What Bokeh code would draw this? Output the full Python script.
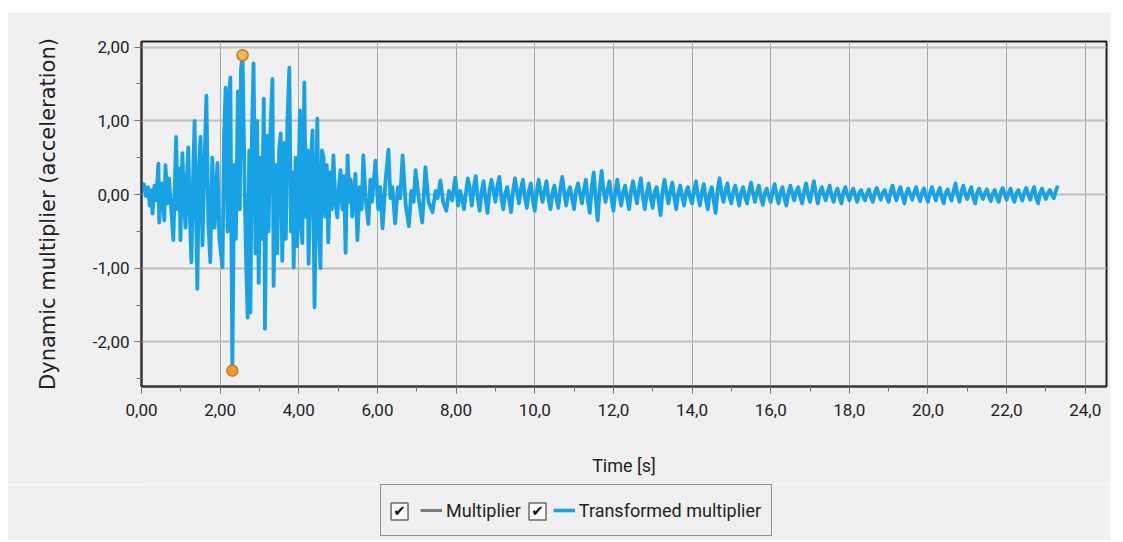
import numpy as np
from bokeh.plotting import figure
from bokeh.layouts import column, row
from bokeh.core.properties import value
from bokeh.models import FixedTicker, Legend, LegendItem, Range1d, Spacer
from bokeh.embed import file_html
from bokeh.resources import INLINE

# ---- data ----
early_t = [0.00, 0.06, 0.11, 0.16, 0.21, 0.25, 0.28, 0.33, 0.37, 0.43, 0.45, 0.51, 0.55, 0.58, 0.61,
           0.66, 0.70, 0.77, 0.81, 0.88, 0.92, 0.96, 0.99, 1.04, 1.08, 1.12, 1.16, 1.19, 1.23, 1.27,
           1.31, 1.35, 1.42, 1.46, 1.50, 1.55, 1.60, 1.65, 1.70, 1.75, 1.80, 1.86, 1.93, 1.98, 2.06,
           2.10, 2.14, 2.19, 2.23, 2.26, 2.31, 2.36, 2.40, 2.45, 2.50, 2.53, 2.57, 2.62, 2.66, 2.70,
           2.74, 2.77, 2.81, 2.85, 2.90, 2.94, 2.98, 3.02, 3.06, 3.11, 3.14, 3.19, 3.23, 3.28, 3.33,
           3.36, 3.41, 3.45, 3.50, 3.54, 3.58, 3.63, 3.67, 3.71, 3.76, 3.80, 3.84, 3.87, 3.92, 3.96,
           4.03, 4.06, 4.09, 4.14, 4.18, 4.22, 4.25, 4.30, 4.35, 4.40, 4.47, 4.51, 4.55, 4.59, 4.63,
           4.67, 4.71, 4.75, 4.80, 4.84, 4.88, 4.93, 4.98, 5.02, 5.06, 5.11, 5.15, 5.19, 5.24, 5.29,
           5.32, 5.36, 5.44, 5.49, 5.55, 5.60, 5.64, 5.70, 5.77, 5.82, 5.86, 5.95, 6.02, 6.07, 6.13,
           6.20, 6.28, 6.33, 6.38, 6.45, 6.52, 6.58, 6.64, 6.72, 6.80, 6.86, 6.92, 6.97, 7.05, 7.14,
           7.22, 7.30, 7.40, 7.48, 7.53, 7.60, 7.67, 7.75, 7.82, 7.90, 7.98, 8.05]
early_v = [0.05, 0.14, -0.02, 0.10, -0.15, 0.06, -0.26, 0.12, -0.08, 0.42, -0.38, 0.15, -0.10, -0.35, 0.40,
           -0.12, 0.22, -0.30, -0.62, 0.78, -0.20, 0.35, -0.62, 0.56, -0.10, -0.45, 0.30, 0.64, -0.30, -0.92,
           0.20, 1.00, -1.28, 0.30, 0.78, -0.69, 0.40, 1.34, -0.40, -0.92, 0.50, -0.45, 0.43, -0.60, -0.99,
           0.80, 1.45, -0.50, 1.30, 1.59, -2.39, 0.40, -0.60, 1.40, -0.20, 1.70, 1.89, 0.20, -0.90, -1.67,
           0.60, -1.60, 0.90, 1.78, -0.80, 1.00, -1.20, 0.50, -0.60, 1.30, -1.82, 0.80, -0.50, 0.90, 1.57,
           -1.24, 0.40, -0.80, 0.60, 0.83, -0.90, 0.70, -0.60, 1.00, 1.72, -0.50, 0.30, -0.99, 0.50, -0.70,
           1.14, -0.40, -0.66, 1.52, -0.30, 0.60, -0.94, 0.40, 0.87, -1.53, 1.03, -0.40, -1.00, 0.60, 0.50,
           -0.30, 0.40, -0.65, 0.30, -0.20, 0.53, -0.10, -0.31, 0.10, 0.33, -0.20, 0.25, -0.79, 0.53, -0.10,
           0.20, -0.30, 0.28, -0.62, 0.10, -0.20, 0.53, -0.05, -0.40, 0.20, -0.10, 0.46, -0.20, 0.10, -0.46,
           0.15, 0.61, -0.05, 0.10, -0.39, 0.10, -0.05, 0.53, -0.15, -0.43, 0.05, -0.10, 0.33, -0.05, -0.38,
           0.37, -0.10, -0.24, 0.05, -0.05, 0.19, -0.10, -0.22, 0.05, -0.08, 0.23, -0.15]

# tail sampled every 0.05 s from 8.10 s to 23.30 s
tail_v = [0.05, -0.05, -0.20, 0.02, 0.22, 0.08, -0.15, 0.10, 0.25, -0.05, -0.22, 0.04, 0.18, -0.06, -0.25, 0.05, 0.20, 0.06, -0.10, 0.12,
          0.24, -0.04, -0.20, 0.02, 0.10, -0.08, -0.24, 0.06, 0.22, 0.04, -0.12, 0.08, 0.20, -0.04, -0.18, 0.05, 0.15, -0.06, -0.22, 0.04,
          0.20, 0.02, -0.10, 0.06, 0.18, -0.06, -0.20, 0.02, 0.12, -0.05, -0.18, 0.08, 0.24, 0.02, -0.15, 0.04, 0.10, -0.06, -0.20, 0.05,
          0.15, 0.02, -0.12, 0.06, 0.20, -0.08, -0.25, 0.10, 0.30, -0.05, -0.35, 0.05, 0.32, 0.05, -0.10, 0.06, 0.18, -0.04, -0.22, 0.04,
          0.20, -0.02, -0.15, 0.04, 0.12, -0.06, -0.20, 0.05, 0.18, 0.02, -0.12, 0.08, 0.22, -0.04, -0.20, 0.02, 0.15, -0.05, -0.18, 0.04,
          0.10, -0.08, -0.28, 0.04, 0.20, 0.02, -0.12, 0.05, 0.16, -0.05, -0.20, 0.02, 0.12, -0.03, -0.15, 0.04, 0.10, -0.04, -0.12, 0.05,
          0.18, -0.02, -0.15, 0.03, 0.14, -0.06, -0.20, 0.02, 0.10, -0.08, -0.25, 0.06, 0.22, 0.02, -0.10, 0.05, 0.15, -0.03, -0.12, 0.04,
          0.12, -0.02, -0.15, 0.03, 0.10, -0.04, -0.12, 0.04, 0.16, 0.02, -0.10, 0.03, 0.12, -0.04, -0.14, 0.02, 0.08, -0.02, -0.10, 0.04,
          0.14, 0.00, -0.12, 0.03, 0.10, -0.05, -0.15, 0.02, 0.12, 0.02, -0.08, 0.04, 0.10, -0.03, -0.12, 0.04, 0.15, 0.00, -0.10, 0.05,
          0.18, 0.02, -0.12, 0.03, 0.10, 0.00, -0.08, 0.04, 0.12, -0.02, -0.10, 0.02, 0.08, -0.04, -0.12, 0.03, 0.10, 0.00, -0.08, 0.02,
          0.08, -0.02, -0.10, 0.02, 0.06, -0.03, -0.08, 0.02, 0.07, -0.04, -0.10, 0.03, 0.09, 0.00, -0.07, 0.02, 0.06, -0.03, -0.10, 0.04,
          0.12, 0.00, -0.08, 0.03, 0.10, -0.02, -0.12, 0.02, 0.08, 0.00, -0.07, 0.03, 0.10, -0.02, -0.09, 0.03, 0.08, -0.03, -0.10, 0.02,
          0.10, 0.00, -0.08, 0.02, 0.09, -0.04, -0.12, 0.02, 0.07, -0.02, -0.08, 0.05, 0.15, 0.00, -0.10, 0.04, 0.12, 0.00, -0.06, 0.03,
          0.10, -0.04, -0.12, 0.02, 0.08, 0.00, -0.06, 0.02, 0.07, -0.03, -0.09, 0.02, 0.06, -0.04, -0.10, 0.03, 0.09, 0.00, -0.07, 0.02,
          0.08, -0.03, -0.10, 0.02, 0.06, -0.02, -0.08, 0.03, 0.09, 0.00, -0.07, 0.03, 0.10, -0.04, -0.12, 0.02, 0.08, 0.00, -0.06, 0.02,
          0.06, 0.00, -0.05, 0.04, 0.12]
tail_t = [round(8.10 + 0.05 * i, 2) for i in range(len(tail_v))]

time_s = early_t + tail_t
multiplier = early_v + tail_v

x_ticks = [0, 2, 4, 6, 8, 10, 12, 14, 16, 18, 20, 22, 24]
x_tick_labels = ["0,00", "2,00", "4,00", "6,00", "8,00", "10,0", "12,0", "14,0",
                 "16,0", "18,0", "20,0", "22,0", "24,0"]
x_minor = [1, 3, 5, 7, 9, 11, 13, 15, 17, 19, 21, 23]
y_ticks = [-2, -1, 0, 1, 2]
y_tick_labels = ["-2,00", "-1,00", "0,00", "1,00", "2,00"]
y_minor = [-2.5, -1.5, -0.5, 0.5, 1.5]

series_names = ["Multiplier", "Transformed multiplier"]
series_colors = ["#7a7a7a", "#17a2e6"]

# ---- main figure ----
BG = "#f0f0f0"
p = figure(width=1103, height=472, output_backend="svg", toolbar_location=None,
           x_range=Range1d(0, 24.54), y_range=Range1d(-2.605, 2.076),
           min_border_left=134, min_border_right=4, min_border_top=29, min_border_bottom=98,
           background_fill_color=BG, border_fill_color=BG)

p.outline_line_color = "#1e1e1e"
p.outline_line_width = 2

line_r = p.line(time_s, multiplier, line_color=series_colors[1], line_width=3.8, line_join="round")

arr = np.array(multiplier)
imax, imin = int(np.argmax(arr)), int(np.argmin(arr))
p.scatter([time_s[imax], time_s[imin]], [multiplier[imax], multiplier[imin]], size=11,
          fill_color=["#f4b45e", "#ec9a32"], line_color="#c77a1c", line_width=1.5)

tick_font = "Roboto"
p.xaxis.ticker = FixedTicker(ticks=x_ticks, minor_ticks=x_minor)
p.xaxis.major_label_overrides = dict(zip(x_ticks, x_tick_labels))
p.yaxis.ticker = FixedTicker(ticks=y_ticks, minor_ticks=y_minor)
p.yaxis.major_label_overrides = dict(zip(y_ticks, y_tick_labels))

for ax in (p.xaxis, p.yaxis):
    ax.axis_line_color = "#3a3a3a"
    ax.axis_line_width = 2
    ax.major_tick_line_color = "#707070"
    ax.minor_tick_line_color = "#707070"
    ax.major_tick_in = 0
    ax.minor_tick_in = 0
    ax.major_tick_out = 7
    ax.minor_tick_out = 5
    ax.major_label_text_font = tick_font
    ax.major_label_text_font_size = "17px"
    ax.major_label_text_color = "#222222"
    ax.axis_label_text_font_style = "normal"
    ax.axis_label_text_color = "#222222"

p.xaxis.major_label_standoff = 10
p.yaxis.major_label_standoff = 5
p.xaxis.axis_label = "Time [s]"
p.xaxis.axis_label_text_font = tick_font
p.xaxis.axis_label_text_font_size = "18px"
p.xaxis.axis_label_standoff = 36
p.yaxis.axis_label = "Dynamic multiplier (acceleration)"
p.yaxis.axis_label_text_font = "DejaVu Sans"
p.yaxis.axis_label_text_font_size = "21px"
p.yaxis.axis_label_standoff = 30

p.xgrid.ticker = FixedTicker(ticks=x_ticks)
p.ygrid.ticker = FixedTicker(ticks=y_ticks)
p.xgrid.grid_line_color = "#a8a8a8"
p.xgrid.grid_line_width = 1
p.ygrid.grid_line_color = "#bdbdbd"
p.ygrid.grid_line_width = 2

# ---- legend strip ----
lf = figure(width=1103, height=56, output_backend="svg", toolbar_location=None,
            x_range=Range1d(0, 1), y_range=Range1d(0, 1), x_axis_type=None, y_axis_type=None,
            min_border_left=134, min_border_right=4, min_border_top=0, min_border_bottom=0,
            background_fill_color=BG, border_fill_color=BG)
lf.outline_line_color = None
lf.grid.visible = False

# legend sample glyphs sit outside the strip's visible range
blank1 = lf.line([-2, -1], [-1, -1], line_alpha=0)
mult_r = lf.line([-2, -1], [-1, -1], line_color=series_colors[0], line_width=3)
blank2 = lf.line([-2, -1], [-1, -1], line_alpha=0)
trans_r = lf.line([-2, -1], [-1, -1], line_color=series_colors[1], line_width=3.6)

legend = Legend(items=[LegendItem(label=" ", renderers=[blank1]),
                       LegendItem(label=series_names[0], renderers=[mult_r]),
                       LegendItem(label=" ", renderers=[blank2]),
                       LegendItem(label=series_names[1], renderers=[trans_r])],
                orientation="horizontal", location=(239, 4),
                glyph_width=22, glyph_height=30, label_standoff=4, spacing=3,
                label_width=0, padding=10, margin=0,
                border_line_color="#303030", border_line_width=1.5,
                background_fill_alpha=0.0,
                label_text_font=tick_font, label_text_font_size="18px",
                label_text_color="#222222")
lf.add_layout(legend, "center")

# check boxes drawn in the blank legend slots
chk_x = [0.2674, 0.4104]
chk_y = [0.518, 0.518]
lf.scatter(chk_x, chk_y, marker="square", size=17,
           fill_color="#fbfbfb", line_color="#6a6a6a", line_width=1.5, level="overlay")
lf.text(chk_x, chk_y, text=["✔", "✔"], text_font=value("DejaVu Sans"), text_font_size="15px",
        text_color="#111111", text_align="center", text_baseline="middle", level="overlay")

layout = row(Spacer(width=7, height=540),
             column(Spacer(width=1103, height=12), p, lf, spacing=0),
             spacing=0)
open("out.html", "w").write(file_html(layout, INLINE))
